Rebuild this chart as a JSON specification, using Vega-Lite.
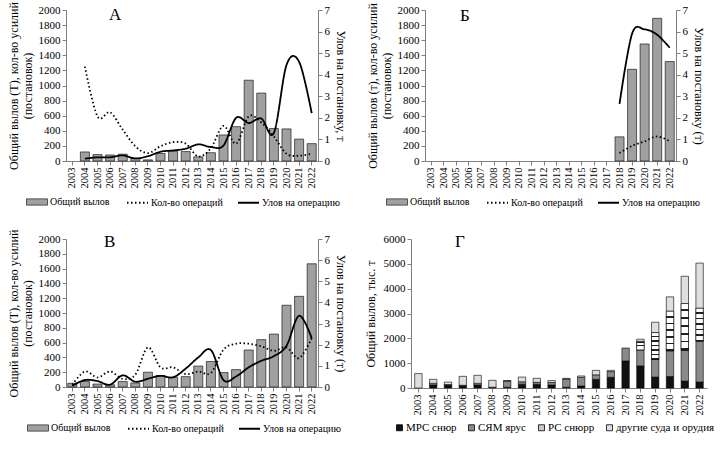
{
  "$schema": "https://vega.github.io/schema/vega-lite/v6.json",
  "background": "white",
  "padding": {"left": 6, "top": 1, "right": 2, "bottom": 2},
  "config": {
    "font": "Liberation Serif",
    "view": {"stroke": null},
    "axis": {"labelFont": "Liberation Serif", "titleFont": "Liberation Serif", "labelFontSize": 11, "titleFontSize": 12, "titleFontWeight": "normal", "labelColor": "black", "titleColor": "black", "domainColor": "#808080", "tickColor": "#808080", "tickSize": 4, "grid": false, "labelPadding": 2},
    "legend": {"labelFont": "Liberation Serif", "labelFontSize": 10, "labelColor": "black", "labelOffset": 2},
    "title": {"font": "Liberation Serif", "fontWeight": "normal", "color": "black"}
  },
  "datasets": {
    "main": [
      {"p": "А", "year": "2004", "catch": 120, "ops": 1250, "cpue": 0.11},
      {"p": "А", "year": "2005", "catch": 85, "ops": 590, "cpue": 0.17},
      {"p": "А", "year": "2006", "catch": 80, "ops": 645, "cpue": 0.17},
      {"p": "А", "year": "2007", "catch": 90, "ops": 415, "cpue": 0.26},
      {"p": "А", "year": "2008", "catch": 35, "ops": 195, "cpue": 0.12},
      {"p": "А", "year": "2009", "catch": 15, "ops": 105, "cpue": 0.22},
      {"p": "А", "year": "2010", "catch": 100, "ops": 195, "cpue": 0.43},
      {"p": "А", "year": "2011", "catch": 130, "ops": 250, "cpue": 0.49},
      {"p": "А", "year": "2012", "catch": 125, "ops": 230, "cpue": 0.57},
      {"p": "А", "year": "2013", "catch": 55, "ops": 60, "cpue": 0.77},
      {"p": "А", "year": "2014", "catch": 110, "ops": 170, "cpue": 0.65},
      {"p": "А", "year": "2015", "catch": 345, "ops": 465, "cpue": 0.72},
      {"p": "А", "year": "2016", "catch": 455, "ops": 230, "cpue": 2.0},
      {"p": "А", "year": "2017", "catch": 1070, "ops": 590, "cpue": 1.76},
      {"p": "А", "year": "2018", "catch": 900, "ops": 510, "cpue": 1.97},
      {"p": "А", "year": "2019", "catch": 430, "ops": 325, "cpue": 1.3},
      {"p": "А", "year": "2020", "catch": 425, "ops": 95, "cpue": 4.45},
      {"p": "А", "year": "2021", "catch": 290, "ops": 70, "cpue": 4.6},
      {"p": "А", "year": "2022", "catch": 230, "ops": 95, "cpue": 2.22},
      {"p": "Б", "year": "2018", "catch": 320, "ops": 105, "cpue": 2.65},
      {"p": "Б", "year": "2019", "catch": 1215, "ops": 200, "cpue": 5.9},
      {"p": "Б", "year": "2020", "catch": 1550, "ops": 260, "cpue": 6.1},
      {"p": "Б", "year": "2021", "catch": 1890, "ops": 325, "cpue": 5.85},
      {"p": "Б", "year": "2022", "catch": 1317, "ops": 260, "cpue": 5.25},
      {"p": "В", "year": "2003", "catch": 50, "ops": 30, "cpue": 0.06},
      {"p": "В", "year": "2004", "catch": 75, "ops": 210, "cpue": 0.33},
      {"p": "В", "year": "2005", "catch": 40, "ops": 130, "cpue": 0.28},
      {"p": "В", "year": "2006", "catch": 30, "ops": 210, "cpue": 0.11},
      {"p": "В", "year": "2007", "catch": 75, "ops": 110, "cpue": 0.55},
      {"p": "В", "year": "2008", "catch": 55, "ops": 165, "cpue": 0.25},
      {"p": "В", "year": "2009", "catch": 200, "ops": 535, "cpue": 0.39},
      {"p": "В", "year": "2010", "catch": 155, "ops": 265, "cpue": 0.53},
      {"p": "В", "year": "2011", "catch": 130, "ops": 265, "cpue": 0.46},
      {"p": "В", "year": "2012", "catch": 140, "ops": 175, "cpue": 0.87},
      {"p": "В", "year": "2013", "catch": 283, "ops": 210, "cpue": 1.4},
      {"p": "В", "year": "2014", "catch": 345, "ops": 190, "cpue": 1.75},
      {"p": "В", "year": "2015", "catch": 195, "ops": 505, "cpue": 0.33},
      {"p": "В", "year": "2016", "catch": 235, "ops": 585, "cpue": 0.5},
      {"p": "В", "year": "2017", "catch": 500, "ops": 585, "cpue": 0.93},
      {"p": "В", "year": "2018", "catch": 640, "ops": 550, "cpue": 1.24},
      {"p": "В", "year": "2019", "catch": 715, "ops": 490, "cpue": 1.46},
      {"p": "В", "year": "2020", "catch": 1105, "ops": 535, "cpue": 1.95},
      {"p": "В", "year": "2021", "catch": 1225, "ops": 390, "cpue": 3.37},
      {"p": "В", "year": "2022", "catch": 1665, "ops": 660, "cpue": 2.31}
    ],
    "g": [
      {"year": "2003", "s": "МРС снюр", "o": 1, "v": 0}, {"year": "2003", "s": "СЯМ ярус", "o": 2, "v": 0}, {"year": "2003", "s": "РС снюрр", "o": 3, "v": 0}, {"year": "2003", "s": "другие суда и орудия", "o": 4, "v": 580},
      {"year": "2004", "s": "МРС снюр", "o": 1, "v": 135}, {"year": "2004", "s": "СЯМ ярус", "o": 2, "v": 0}, {"year": "2004", "s": "РС снюрр", "o": 3, "v": 50}, {"year": "2004", "s": "другие суда и орудия", "o": 4, "v": 165},
      {"year": "2005", "s": "МРС снюр", "o": 1, "v": 100}, {"year": "2005", "s": "СЯМ ярус", "o": 2, "v": 0}, {"year": "2005", "s": "РС снюрр", "o": 3, "v": 40}, {"year": "2005", "s": "другие суда и орудия", "o": 4, "v": 100},
      {"year": "2006", "s": "МРС снюр", "o": 1, "v": 110}, {"year": "2006", "s": "СЯМ ярус", "o": 2, "v": 0}, {"year": "2006", "s": "РС снюрр", "o": 3, "v": 0}, {"year": "2006", "s": "другие суда и орудия", "o": 4, "v": 360},
      {"year": "2007", "s": "МРС снюр", "o": 1, "v": 135}, {"year": "2007", "s": "СЯМ ярус", "o": 2, "v": 0}, {"year": "2007", "s": "РС снюрр", "o": 3, "v": 50}, {"year": "2007", "s": "другие суда и орудия", "o": 4, "v": 325},
      {"year": "2008", "s": "МРС снюр", "o": 1, "v": 30}, {"year": "2008", "s": "СЯМ ярус", "o": 2, "v": 0}, {"year": "2008", "s": "РС снюрр", "o": 3, "v": 0}, {"year": "2008", "s": "другие суда и орудия", "o": 4, "v": 280},
      {"year": "2009", "s": "МРС снюр", "o": 1, "v": 30}, {"year": "2009", "s": "СЯМ ярус", "o": 2, "v": 250}, {"year": "2009", "s": "РС снюрр", "o": 3, "v": 0}, {"year": "2009", "s": "другие суда и орудия", "o": 4, "v": 20},
      {"year": "2010", "s": "МРС снюр", "o": 1, "v": 150}, {"year": "2010", "s": "СЯМ ярус", "o": 2, "v": 100}, {"year": "2010", "s": "РС снюрр", "o": 3, "v": 0}, {"year": "2010", "s": "другие суда и орудия", "o": 4, "v": 190},
      {"year": "2011", "s": "МРС снюр", "o": 1, "v": 150}, {"year": "2011", "s": "СЯМ ярус", "o": 2, "v": 80}, {"year": "2011", "s": "РС снюрр", "o": 3, "v": 0}, {"year": "2011", "s": "другие суда и орудия", "o": 4, "v": 160},
      {"year": "2012", "s": "МРС снюр", "o": 1, "v": 120}, {"year": "2012", "s": "СЯМ ярус", "o": 2, "v": 100}, {"year": "2012", "s": "РС снюрр", "o": 3, "v": 0}, {"year": "2012", "s": "другие суда и орудия", "o": 4, "v": 80},
      {"year": "2013", "s": "МРС снюр", "o": 1, "v": 30}, {"year": "2013", "s": "СЯМ ярус", "o": 2, "v": 330}, {"year": "2013", "s": "РС снюрр", "o": 3, "v": 0}, {"year": "2013", "s": "другие суда и орудия", "o": 4, "v": 30},
      {"year": "2014", "s": "МРС снюр", "o": 1, "v": 80}, {"year": "2014", "s": "СЯМ ярус", "o": 2, "v": 350}, {"year": "2014", "s": "РС снюрр", "o": 3, "v": 0}, {"year": "2014", "s": "другие суда и орудия", "o": 4, "v": 55},
      {"year": "2015", "s": "МРС снюр", "o": 1, "v": 350}, {"year": "2015", "s": "СЯМ ярус", "o": 2, "v": 180}, {"year": "2015", "s": "РС снюрр", "o": 3, "v": 0}, {"year": "2015", "s": "другие суда и орудия", "o": 4, "v": 180},
      {"year": "2016", "s": "МРС снюр", "o": 1, "v": 430}, {"year": "2016", "s": "СЯМ ярус", "o": 2, "v": 230}, {"year": "2016", "s": "РС снюрр", "o": 3, "v": 0}, {"year": "2016", "s": "другие суда и орудия", "o": 4, "v": 50},
      {"year": "2017", "s": "МРС снюр", "o": 1, "v": 1090}, {"year": "2017", "s": "СЯМ ярус", "o": 2, "v": 520}, {"year": "2017", "s": "РС снюрр", "o": 3, "v": 0}, {"year": "2017", "s": "другие суда и орудия", "o": 4, "v": 0},
      {"year": "2018", "s": "МРС снюр", "o": 1, "v": 890}, {"year": "2018", "s": "СЯМ ярус", "o": 2, "v": 645}, {"year": "2018", "s": "РС снюрр", "o": 3, "v": 340}, {"year": "2018", "s": "другие суда и орудия", "o": 4, "v": 90},
      {"year": "2019", "s": "МРС снюр", "o": 1, "v": 440}, {"year": "2019", "s": "СЯМ ярус", "o": 2, "v": 710}, {"year": "2019", "s": "РС снюрр", "o": 3, "v": 1080}, {"year": "2019", "s": "другие суда и орудия", "o": 4, "v": 420},
      {"year": "2020", "s": "МРС снюр", "o": 1, "v": 460}, {"year": "2020", "s": "СЯМ ярус", "o": 2, "v": 1040}, {"year": "2020", "s": "РС снюрр", "o": 3, "v": 1590}, {"year": "2020", "s": "другие суда и орудия", "o": 4, "v": 580},
      {"year": "2021", "s": "МРС снюр", "o": 1, "v": 280}, {"year": "2021", "s": "СЯМ ярус", "o": 2, "v": 1240}, {"year": "2021", "s": "РС снюрр", "o": 3, "v": 1880}, {"year": "2021", "s": "другие суда и орудия", "o": 4, "v": 1100},
      {"year": "2022", "s": "МРС снюр", "o": 1, "v": 240}, {"year": "2022", "s": "СЯМ ярус", "o": 2, "v": 1650}, {"year": "2022", "s": "РС снюрр", "o": 3, "v": 1320}, {"year": "2022", "s": "другие суда и орудия", "o": 4, "v": 1820}
    ]
  },
  "spacing": 21,
  "resolve": {"scale": {"color": "independent", "strokeDash": "independent"}, "legend": {"color": "independent", "strokeDash": "independent"}},
  "vconcat": [
    {
      "bounds": "flush",
      "spacing": 107,
      "resolve": {"scale": {"color": "independent", "strokeDash": "independent"}, "legend": {"color": "independent", "strokeDash": "independent"}},
      "hconcat": [
        {
          "width": 252, "height": 151,
          "title": {"text": "А", "anchor": "start", "frame": "group", "dx": 43, "offset": -22, "fontSize": 17},
          "data": {"name": "main"},
          "transform": [{"filter": "datum.p === 'А'"}],
          "encoding": {"x": {"field": "year", "type": "ordinal", "scale": {"domain": ["2003","2004","2005","2006","2007","2008","2009","2010","2011","2012","2013","2014","2015","2016","2017","2018","2019","2020","2021","2022"], "paddingInner": 0.28, "paddingOuter": 0.14}, "axis": {"title": null, "labelAngle": -90, "labelFontSize": 10.5}}},
          "layer": [
            {"mark": {"type": "bar", "stroke": "black", "strokeWidth": 0.6}, "encoding": {"y": {"field": "catch", "type": "quantitative", "scale": {"domain": [0, 2000]}, "axis": {"values": [0,200,400,600,800,1000,1200,1400,1600,1800,2000], "format": "d", "title": ["Общий вылов (Т), кол-во усилий", "(постановок)"], "titlePadding": 4}}, "color": {"datum": "Общий вылов", "scale": {"domain": ["Общий вылов"], "range": ["#a0a0a0"]}, "legend": {"orient": "none", "legendX": -40, "legendY": 181, "title": null, "symbolType": "M-1,-0.3H1V0.3H-1Z", "symbolSize": 441, "symbolStrokeColor": "black", "symbolStrokeWidth": 0.6, "labelFont": "Liberation Serif", "labelFontSize": 10}}}},
            {"mark": {"type": "line", "color": "black", "strokeWidth": 1.8, "interpolate": "cardinal"}, "encoding": {"y": {"field": "ops", "type": "quantitative", "scale": {"domain": [0, 2000]}, "axis": null}, "strokeDash": {"datum": "Кол-во операций", "scale": {"domain": ["Кол-во операций", "Улов на операцию"], "range": [[1.5, 2.5], [1, 0]]}, "legend": {"orient": "none", "legendX": 60, "legendY": 181, "direction": "horizontal", "title": null, "symbolType": "stroke", "symbolSize": 441, "symbolStrokeColor": "black", "symbolStrokeWidth": 1.8, "columnPadding": 11, "labelFont": "Liberation Serif", "labelFontSize": 10}}}},
            {"mark": {"type": "line", "color": "black", "strokeWidth": 1.8, "interpolate": "cardinal"}, "encoding": {"y": {"field": "cpue", "type": "quantitative", "scale": {"domain": [0, 7]}, "axis": {"orient": "right", "values": [0,1,2,3,4,5,6,7], "title": "Улов на постановку, т", "titlePadding": 4}}, "strokeDash": {"datum": "Улов на операцию"}}}
          ],
          "resolve": {"scale": {"y": "independent"}}
        },
        {
          "width": 251, "height": 151,
          "title": {"text": "Б", "anchor": "start", "frame": "group", "dx": 35, "offset": -22, "fontSize": 17},
          "data": {"name": "main"},
          "transform": [{"filter": "datum.p === 'Б'"}],
          "encoding": {"x": {"field": "year", "type": "ordinal", "scale": {"domain": ["2003","2004","2005","2006","2007","2008","2009","2010","2011","2012","2013","2014","2015","2016","2017","2018","2019","2020","2021","2022"], "paddingInner": 0.28, "paddingOuter": 0.14}, "axis": {"title": null, "labelAngle": -90, "labelFontSize": 10.5}}},
          "layer": [
            {"mark": {"type": "bar", "stroke": "black", "strokeWidth": 0.6}, "encoding": {"y": {"field": "catch", "type": "quantitative", "scale": {"domain": [0, 2000]}, "axis": {"values": [0,200,400,600,800,1000,1200,1400,1600,1800,2000], "format": "d", "title": ["Общий вылов (т), кол-во усилий", "(постановок)"], "titlePadding": 4}}, "color": {"datum": "Общий вылов", "scale": {"domain": ["Общий вылов"], "range": ["#a0a0a0"]}, "legend": {"orient": "none", "legendX": -39, "legendY": 181, "title": null, "symbolType": "M-1,-0.3H1V0.3H-1Z", "symbolSize": 441, "symbolStrokeColor": "black", "symbolStrokeWidth": 0.6, "labelFont": "Liberation Serif", "labelFontSize": 10}}}},
            {"mark": {"type": "line", "color": "black", "strokeWidth": 1.8, "interpolate": "cardinal"}, "encoding": {"y": {"field": "ops", "type": "quantitative", "scale": {"domain": [0, 2000]}, "axis": null}, "strokeDash": {"datum": "Кол-во операций", "scale": {"domain": ["Кол-во операций", "Улов на операцию"], "range": [[1.5, 2.5], [1, 0]]}, "legend": {"orient": "none", "legendX": 61, "legendY": 181, "direction": "horizontal", "title": null, "symbolType": "stroke", "symbolSize": 441, "symbolStrokeColor": "black", "symbolStrokeWidth": 1.8, "columnPadding": 11, "labelFont": "Liberation Serif", "labelFontSize": 10}}}},
            {"mark": {"type": "line", "color": "black", "strokeWidth": 1.8, "interpolate": "cardinal"}, "encoding": {"y": {"field": "cpue", "type": "quantitative", "scale": {"domain": [0, 7]}, "axis": {"orient": "right", "values": [0,1,2,3,4,5,6,7], "title": "Улов на постановку (т)", "titlePadding": 4}}, "strokeDash": {"datum": "Улов на операцию"}}}
          ],
          "resolve": {"scale": {"y": "independent"}}
        }
      ]
    },
    {
      "bounds": "flush",
      "spacing": 93,
      "resolve": {"scale": {"color": "independent", "strokeDash": "independent"}, "legend": {"color": "independent", "strokeDash": "independent"}},
      "hconcat": [
        {
          "width": 252, "height": 148,
          "title": {"text": "В", "anchor": "start", "frame": "group", "dx": 38, "offset": -22, "fontSize": 17},
          "data": {"name": "main"},
          "transform": [{"filter": "datum.p === 'В'"}],
          "encoding": {"x": {"field": "year", "type": "ordinal", "scale": {"domain": ["2003","2004","2005","2006","2007","2008","2009","2010","2011","2012","2013","2014","2015","2016","2017","2018","2019","2020","2021","2022"], "paddingInner": 0.28, "paddingOuter": 0.14}, "axis": {"title": null, "labelAngle": -90, "labelFontSize": 10.5}}},
          "layer": [
            {"mark": {"type": "bar", "stroke": "black", "strokeWidth": 0.6}, "encoding": {"y": {"field": "catch", "type": "quantitative", "scale": {"domain": [0, 2000]}, "axis": {"values": [0,200,400,600,800,1000,1200,1400,1600,1800,2000], "format": "d", "title": ["Общий вылов (Т), кол-во усилий", "(постановок)"], "titlePadding": 4}}, "color": {"datum": "Общий вылов", "scale": {"domain": ["Общий вылов"], "range": ["#a0a0a0"]}, "legend": {"orient": "none", "legendX": -39, "legendY": 178, "title": null, "symbolType": "M-1,-0.3H1V0.3H-1Z", "symbolSize": 441, "symbolStrokeColor": "black", "symbolStrokeWidth": 0.6, "labelFont": "Liberation Serif", "labelFontSize": 10}}}},
            {"mark": {"type": "line", "color": "black", "strokeWidth": 1.8, "interpolate": "cardinal"}, "encoding": {"y": {"field": "ops", "type": "quantitative", "scale": {"domain": [0, 2000]}, "axis": null}, "strokeDash": {"datum": "Кол-во операций", "scale": {"domain": ["Кол-во операций", "Улов на операцию"], "range": [[1.5, 2.5], [1, 0]]}, "legend": {"orient": "none", "legendX": 61, "legendY": 178, "direction": "horizontal", "title": null, "symbolType": "stroke", "symbolSize": 441, "symbolStrokeColor": "black", "symbolStrokeWidth": 1.8, "columnPadding": 11, "labelFont": "Liberation Serif", "labelFontSize": 10}}}},
            {"mark": {"type": "line", "color": "black", "strokeWidth": 1.8, "interpolate": "cardinal"}, "encoding": {"y": {"field": "cpue", "type": "quantitative", "scale": {"domain": [0, 7]}, "axis": {"orient": "right", "values": [0,1,2,3,4,5,6,7], "title": "Улов на постановку (т)", "titlePadding": 4}}, "strokeDash": {"datum": "Улов на операцию"}}}
          ],
          "resolve": {"scale": {"y": "independent"}}
        },
        {
          "width": 296, "height": 149,
          "title": {"text": "Г", "anchor": "start", "frame": "group", "dx": 44, "offset": -18, "fontSize": 17},
          "data": {"name": "g"},
          "transform": [{"filter": "datum.v > 0"}, {"stack": "v", "groupby": ["year"], "sort": [{"field": "o", "order": "ascending"}], "as": ["y0", "y1"]}],
          "encoding": {
            "x": {"field": "year", "type": "ordinal", "scale": {"domain": ["2003","2004","2005","2006","2007","2008","2009","2010","2011","2012","2013","2014","2015","2016","2017","2018","2019","2020","2021","2022"], "paddingInner": 0.5, "paddingOuter": 0.25}, "axis": {"title": null, "labelAngle": -90, "labelFontSize": 10.5}},
            "y": {"field": "y0", "type": "quantitative", "scale": {"domain": [0, 6000]}, "axis": {"values": [0,1000,2000,3000,4000,5000,6000], "format": "d", "title": "Общий вылов, тыс. т", "titlePadding": 6}},
            "y2": {"field": "y1"}
          },
          "layer": [
            {"mark": {"type": "bar", "stroke": "black", "strokeWidth": 0.6}, "encoding": {"color": {"field": "s", "type": "nominal", "scale": {"domain": ["МРС снюр", "СЯМ ярус", "РС снюрр", "другие суда и орудия"], "range": ["#111111", "#8a8a8a", "#c8c8c8", "#dedede"]}, "legend": {"orient": "none", "legendX": -17, "legendY": 183, "direction": "horizontal", "title": null, "columnPadding": 9, "labelOffset": 1, "symbolType": "square", "symbolSize": 36, "symbolStrokeColor": "black", "symbolStrokeWidth": 0.8, "labelFont": "Liberation Serif", "labelFontSize": 11}}}},
            {"transform": [{"filter": "datum.s === 'РС снюрр'"}], "mark": {"type": "bar", "stroke": "black", "strokeWidth": 0.6, "fill": {"gradient": "linear", "x1": 0, "y1": 0, "x2": 0, "y2": 1, "stops": [{"offset": 0, "color": "white"}, {"offset": 0.125, "color": "white"}, {"offset": 0.125, "color": "#222"}, {"offset": 0.1667, "color": "#222"}, {"offset": 0.1667, "color": "white"}, {"offset": 0.2917, "color": "white"}, {"offset": 0.2917, "color": "#222"}, {"offset": 0.3333, "color": "#222"}, {"offset": 0.3333, "color": "white"}, {"offset": 0.4583, "color": "white"}, {"offset": 0.4583, "color": "#222"}, {"offset": 0.5, "color": "#222"}, {"offset": 0.5, "color": "white"}, {"offset": 0.625, "color": "white"}, {"offset": 0.625, "color": "#222"}, {"offset": 0.6667, "color": "#222"}, {"offset": 0.6667, "color": "white"}, {"offset": 0.7917, "color": "white"}, {"offset": 0.7917, "color": "#222"}, {"offset": 0.8333, "color": "#222"}, {"offset": 0.8333, "color": "white"}, {"offset": 0.9583, "color": "white"}, {"offset": 0.9583, "color": "#222"}, {"offset": 1, "color": "#222"}]}}}
          ]
        }
      ]
    }
  ]
}
